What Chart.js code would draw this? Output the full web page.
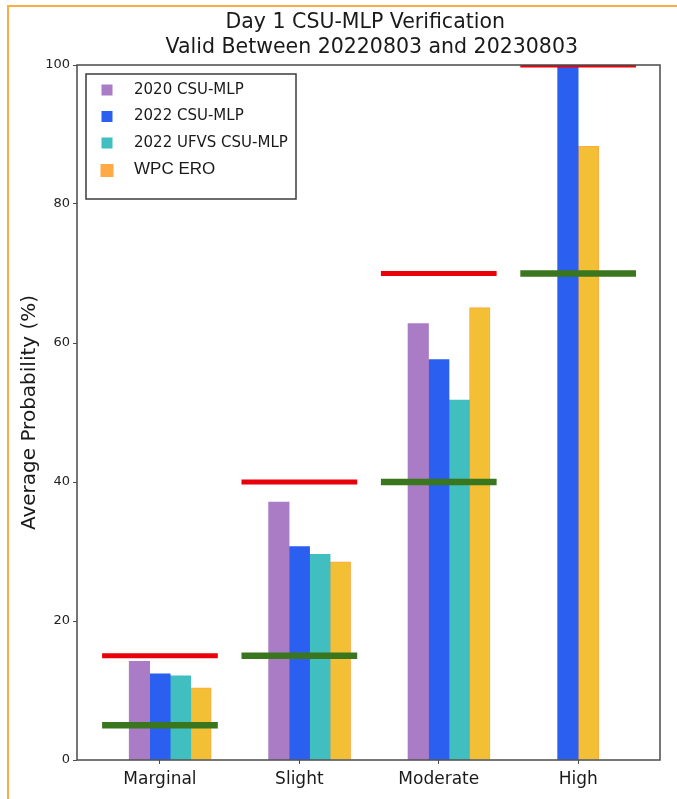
<!DOCTYPE html>
<html>
<head>
<meta charset="utf-8">
<script src="https://cdn.jsdelivr.net/npm/chart.js@4.4.0/dist/chart.umd.min.js"></script>
<style>
  body { margin: 0; background: #fff; }
  #wrap { position: relative; width: 677px; height: 799px; }
  #frame {
    position: absolute; left: 7px; top: 5px; right: 0; bottom: 0;
    border-top: 2px solid #fcab48; border-left: 2px solid #fcab48;
    pointer-events: none;
  }
</style>
</head>
<body>
<div id="wrap">
  <canvas id="grafico" width="677" height="799"></canvas>
  <div id="frame"></div>
</div>
<script>
const titulo = ['Day 1 CSU-MLP Verification ', ' Valid Between 20220803 and 20230803'];
const categorias = ['Marginal', 'Slight', 'Moderate', 'High'];
const nomes = ['2020 CSU-MLP', '2022 CSU-MLP', '2022 UFVS CSU-MLP', 'WPC ERO'];
const csu2020 = [14.2, 37.1, 62.8, null];
const csu2022 = [12.4, 30.7, 57.6, 100];
const ufvs2022 = [12.1, 29.6, 51.8, null];
const wpcEro = [10.4, 28.5, 65.1, 88.3];
const limiteSuperior = [15, 40, 70, 100];
const limiteInferior = [5, 15, 40, 70];
const yTicks = [0, 20, 40, 60, 80, 100];

const coresBarras = ['#ab7cc6', '#2a5ff0', '#40bec0', '#f3bf35'];
const coresLegenda = ['#ab7cc6', '#2a5ff0', '#40bec0', '#ffaa44'];
const meiaLinha = 0.415;
const fonte = '"DejaVu Sans", sans-serif';

function segmentos(valores) {
  const pts = [];
  valores.forEach((v, i) => {
    pts.push({ x: i - meiaLinha, y: v });
    pts.push({ x: i + meiaLinha, y: v });
    pts.push({ x: i + 0.5, y: null });
  });
  return pts;
}

// espaçador: ocupa o primeiro slot só onde o grupo está completo
const espacador = categorias.map((c, i) => (csu2020[i] === null ? null : 0));

const extras = {
  id: 'extras',
  afterDatasetsDraw(chart) {
    const { ctx, chartArea } = chart;
    ctx.save();
    ctx.strokeStyle = '#4a4a4a';
    ctx.lineWidth = 1.5;
    ctx.strokeRect(chartArea.left, chartArea.top, chartArea.right - chartArea.left, chartArea.bottom - chartArea.top);
    ctx.restore();
  },
  afterDraw(chart) {
    const { ctx, chartArea } = chart;
    ctx.save();
    // titulo centrado sobre a area do grafico
    const cx = (chartArea.left + chartArea.right) / 2;
    ctx.fillStyle = '#1a1a1a';
    ctx.font = '20.5px ' + fonte;
    ctx.textAlign = 'center';
    ctx.textBaseline = 'alphabetic';
    ctx.fillText(titulo[0], cx, 28);
    ctx.fillText(titulo[1], cx, 52.5);

    // legenda dentro do grafico
    const x = chartArea.left + 9, y = chartArea.top + 9, w = 210, h = 125;
    ctx.textAlign = 'left';
    ctx.fillStyle = 'rgba(255,255,255,0.85)';
    ctx.fillRect(x, y, w, h);
    ctx.strokeStyle = '#3c3c3c';
    ctx.lineWidth = 1.5;
    ctx.strokeRect(x, y, w, h);
    ctx.textBaseline = 'middle';
    nomes.forEach((nome, i) => {
      const cy = y + 16 + i * 26.5;
      const ultimo = i === nomes.length - 1;
      const s = ultimo ? 13 : 11;
      ctx.fillStyle = coresLegenda[i];
      ctx.fillRect(x + 21 - s / 2, cy - s / 2 + (ultimo ? 1 : 0), s, s);
      ctx.fillStyle = '#1a1a1a';
      ctx.font = ultimo ? '17px "Liberation Sans", Arial, sans-serif' : '15px ' + fonte;
      ctx.fillText(nome, x + 48, cy);
    });
    ctx.restore();
  }
};

const barra = (label, dados, i) => ({
  type: 'bar',
  label: label,
  data: dados,
  backgroundColor: coresBarras[i],
  borderColor: i === 3 ? '#ffa940' : coresBarras[i],
  borderWidth: i === 3 ? 1 : 0,
  order: 1
});

const linha = (label, valores, cor, largura) => ({
  type: 'line',
  label: label,
  data: segmentos(valores),
  borderColor: cor,
  borderWidth: largura,
  pointRadius: 0,
  spanGaps: false,
  tension: 0,
  order: 0
});

new Chart(document.getElementById('grafico').getContext('2d'), {
  type: 'bar',
  data: {
    labels: categorias.map((c, i) => i),
    datasets: [
      { type: 'bar', label: '', data: espacador, borderWidth: 0, backgroundColor: 'rgba(0,0,0,0)', order: 1 },
      barra(nomes[0], csu2020, 0),
      barra(nomes[1], csu2022, 1),
      barra(nomes[2], ufvs2022, 2),
      barra(nomes[3], wpcEro, 3),
      linha('Upper', limiteSuperior, '#e8000b', 5),
      linha('Lower', limiteInferior, '#3a761e', 6.5)
    ]
  },
  options: {
    responsive: false,
    animation: false,
    barThickness: 20.5,
    skipNull: true,
    layout: { padding: { left: 0, right: 17, top: 65, bottom: 0 } },
    plugins: {
      legend: { display: false },
      tooltip: { enabled: false },
      title: { display: false }
    },
    scales: {
      x: {
        type: 'linear',
        min: -0.595,
        max: 3.587,
        offset: false,
        grid: { display: true, offset: false, drawOnChartArea: false, drawTicks: true, tickLength: 4, color: '#4a4a4a' },
        border: { display: false },
        afterBuildTicks: (s) => { s.ticks = categorias.map((c, i) => ({ value: i })); },
        afterFit: (s) => { s.height = 39; },
        ticks: {
          autoSkip: false,
          maxRotation: 0,
          padding: 5,
          color: '#1a1a1a',
          font: { family: fonte, size: 17 },
          callback: (v) => categorias[v]
        }
      },
      y: {
        min: 0,
        max: 100,
        grid: { display: true, drawOnChartArea: false, drawTicks: true, tickLength: 4, color: '#4a4a4a' },
        border: { display: false },
        afterBuildTicks: (s) => { s.ticks = yTicks.map(v => ({ value: v })); },
        afterFit: (s) => { s.width = 77; },
        ticks: {
          padding: 3,
          color: '#222',
          font: { family: fonte, size: 13 }
        },
        title: {
          display: true,
          text: 'Average Probability (%)',
          color: '#1a1a1a',
          font: { family: fonte, size: 20 },
          padding: { top: 18, bottom: 0 }
        }
      }
    }
  },
  plugins: [extras]
});
</script>
</body>
</html>
